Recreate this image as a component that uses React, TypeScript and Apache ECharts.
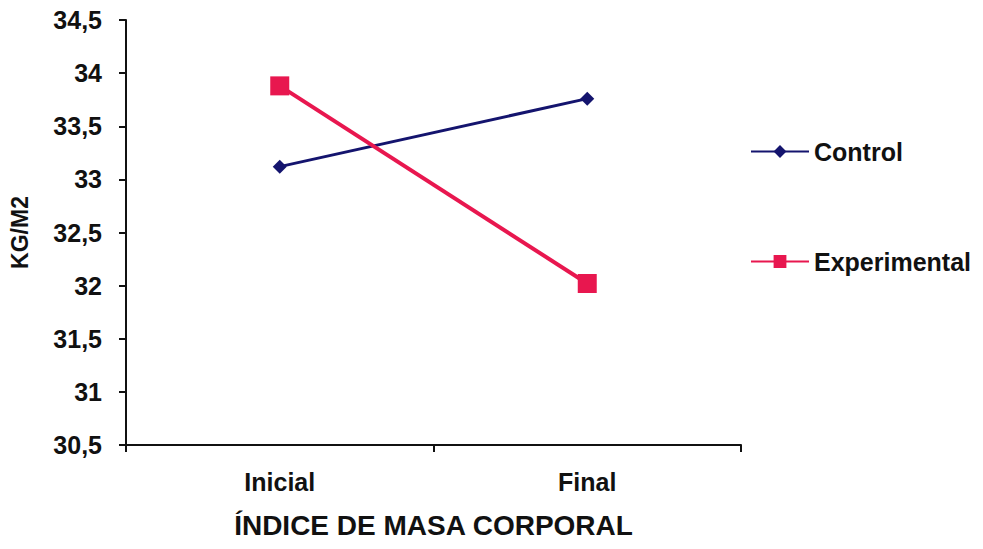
import React, { useEffect, useRef } from "react";
import * as echarts from "echarts";

const categories = ["Inicial", "Final"];
const controlValues = [33.12, 33.76];
const experimentalValues = [33.88, 32.02];
const yMin = 30.5;
const yMax = 34.5;
const yStep = 0.5;

const FONT = "'Liberation Sans', Arial, sans-serif";

export default function App() {
  const ref = useRef<HTMLDivElement>(null);

  useEffect(() => {
    if (!ref.current) return;
    const chart = echarts.init(ref.current, undefined, { renderer: "svg" });
    chart.setOption({
      animation: false,
      backgroundColor: "#ffffff",
      textStyle: { fontFamily: FONT },
      grid: { left: 125, right: 242, top: 20, bottom: 104, containLabel: false },
      legend: {
        orient: "vertical",
        left: 745,
        top: 134,
        width: 236,
        itemGap: 85,
        itemWidth: 58,
        itemHeight: 16,
        textStyle: { fontFamily: FONT, fontSize: 25, fontWeight: "bold", color: "#111" },
        data: ["Control", "Experimental"],
      },
      xAxis: {
        type: "category",
        data: categories,
        boundaryGap: true,
        name: "ÍNDICE DE MASA CORPORAL",
        nameLocation: "middle",
        nameGap: 66,
        nameTextStyle: { fontFamily: FONT, fontSize: 28, fontWeight: "bold", color: "#111" },
        axisLine: { lineStyle: { color: "#111", width: 2 } },
        axisTick: { show: true, length: 7, lineStyle: { color: "#111", width: 2 } },
        axisLabel: { fontFamily: FONT, fontSize: 25, fontWeight: "bold", color: "#111", margin: 24 },
        splitLine: { show: false },
      },
      yAxis: {
        type: "value",
        min: yMin,
        max: yMax,
        interval: yStep,
        name: "KG/M2",
        nameLocation: "middle",
        nameGap: 95,
        nameRotate: 90,
        nameTextStyle: { fontFamily: FONT, fontSize: 23, fontWeight: "bold", color: "#111" },
        axisLine: { show: true, lineStyle: { color: "#111", width: 2 } },
        axisTick: { show: true, length: 7, lineStyle: { color: "#111", width: 2 } },
        axisLabel: {
          fontFamily: FONT,
          fontSize: 25,
          fontWeight: "bold",
          color: "#111",
          margin: 24,
          formatter: (v: number) => String(v).replace(".", ","),
        },
        splitLine: { show: false },
      },
      series: [
        {
          name: "Control",
          type: "line",
          data: controlValues,
          symbol: "diamond",
          symbolSize: 14,
          lineStyle: { color: "#14146e", width: 3 },
          itemStyle: { color: "#14146e" },
        },
        {
          name: "Experimental",
          type: "line",
          data: experimentalValues,
          symbol: "rect",
          symbolSize: 19,
          lineStyle: { color: "#e8174f", width: 4 },
          itemStyle: { color: "#e8174f" },
        },
      ],
    });
    return () => chart.dispose();
  }, []);

  return <div ref={ref} style={{ width: 983, height: 549, margin: -8 }} />;
}
